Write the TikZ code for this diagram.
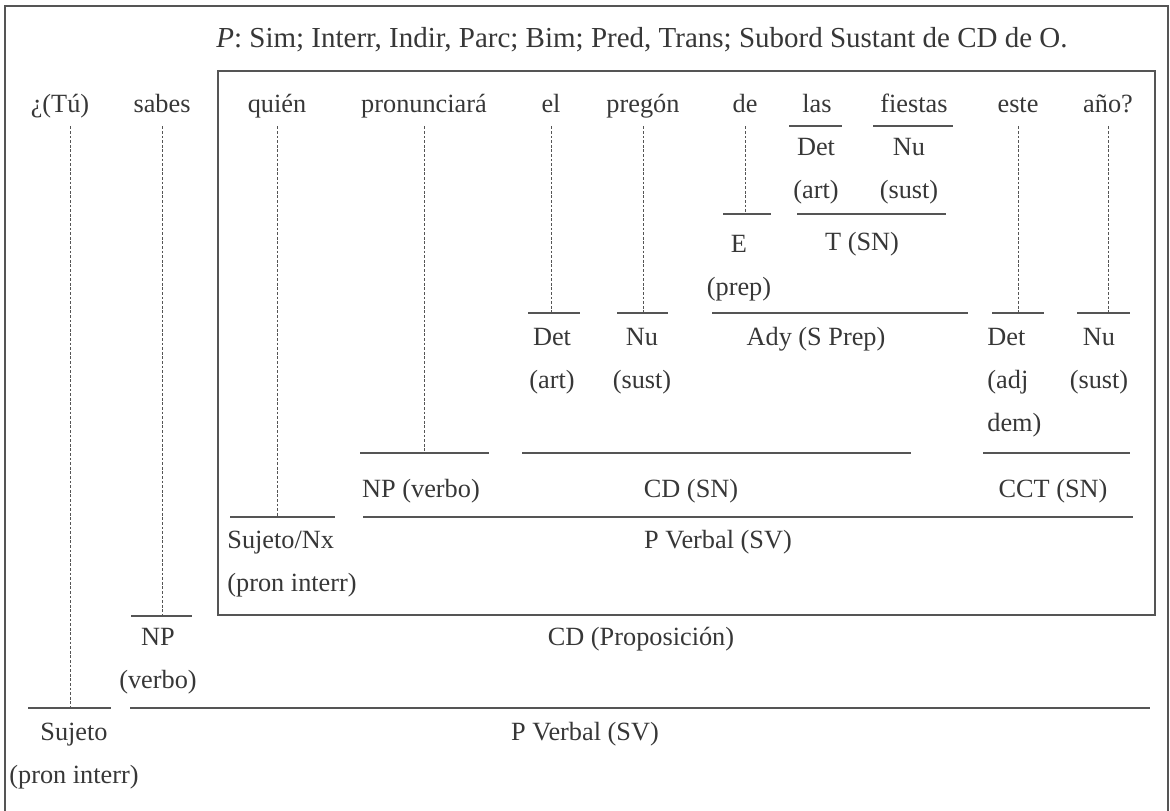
\documentclass[tikz,border=0pt]{standalone}
\usepackage{fontspec}
\setmainfont{Liberation Serif}
\usepackage{tikz}
\usetikzlibrary{calc,positioning}
\definecolor{ink}{RGB}{55,55,55}
\definecolor{rule}{RGB}{85,85,85}
\newcommand{\labfont}{\fontsize{13.15}{21.5}\selectfont}
\newcommand{\headfont}{\fontsize{14.5}{17}\selectfont}
\tikzstyle{word} = [anchor=base, inner sep=0pt, text depth=7pt, text=ink]
\tikzstyle{lab} = [anchor=base, inner sep=0pt, align=center, text=ink] % base = last line
\tikzstyle{labl} = [anchor=base west, inner sep=0pt, align=left, text=ink]
\tikzstyle{bar} = [draw=rule, line width=0.65pt]
\tikzstyle{frame} = [draw=rule, line width=0.6pt]
\tikzstyle{guide} = [draw=rule, line width=0.35pt, dash pattern=on 1.4pt off 0.9pt]

\begin{document}
\begin{tikzpicture}[x=0.5pt, y=-0.5pt, font=\labfont]
    \useasboundingbox (0,0) rectangle (1170,810);
    \draw[frame] (5,815) -- (5,6) -- (1168,6) -- (1168,815);
    \draw[frame] (218,71) rectangle (1155,615);

    \node[anchor=base, inner sep=0pt, text=ink, font=\headfont] (tit) at (642,47)
        {\textit{P}: Sim; Interr, Indir, Parc; Bim; Pred, Trans; Subord Sustant de CD de O.};

    % the sentence
    \node[word] (tu)  at (60,112)   {¿(Tú)};
    \node[word] (sab) at (162,112)  {sabes};
    \node[word] (qui) at (277,112)  {quién};
    \node[word] (pro) at (424,112)  {pronunciará};
    \node[word] (el)  at (551,112)  {el};
    \node[word] (pre) at (643,112)  {pregón};
    \node[word] (de)  at (745,112)  {de};
    \node[word] (las) at (817,112)  {las};
    \node[word] (fie) at (914,112)  {fiestas};
    \node[word] (est) at (1018,112) {este};
    \node[word] (ano) at (1108,112) {año?};

    % bar ends
    \coordinate (lasL) at (789,126);  \coordinate (lasR) at (842,126);
    \coordinate (fieL) at (873,126);  \coordinate (fieR) at (953,126);
    \coordinate (deL)  at (723,214);  \coordinate (deR)  at (771,214);
    \coordinate (tL)   at (797,214);  \coordinate (tR)   at (946,214);
    \coordinate (elL)  at (528,313);  \coordinate (elR)  at (580,313);
    \coordinate (preL) at (617,313);  \coordinate (preR) at (668,313);
    \coordinate (adyL) at (712,313);  \coordinate (adyR) at (968,313);
    \coordinate (estL) at (992,313);  \coordinate (estR) at (1044,313);
    \coordinate (anoL) at (1077,313); \coordinate (anoR) at (1130,313);
    \coordinate (proL) at (360,453);  \coordinate (proR) at (489,453);
    \coordinate (cdL)  at (522,453);  \coordinate (cdR)  at (911,453);
    \coordinate (cctL) at (983,453);  \coordinate (cctR) at (1130,453);
    \coordinate (quiL) at (230,517);  \coordinate (quiR) at (335,517);
    \coordinate (pvL)  at (363,517);  \coordinate (pvR)  at (1133,517);
    \coordinate (sabL) at (131,616);  \coordinate (sabR) at (192,616);
    \coordinate (tuL)  at (28,708);   \coordinate (tuR)  at (111,708);
    \coordinate (svL)  at (130,708);  \coordinate (svR)  at (1150,708);

    \foreach \b in {las,fie,de,t,el,pre,ady,est,ano,pro,cd,cct,qui,pv,sab,tu,sv}
        \draw[bar] (\b L) -- (\b R);

    \draw[guide] ([xshift=5pt]tu.south) -- ([xshift=5pt]tu.south |- tuL);
    \foreach \w in {sab,qui,pro,el,pre,de,est,ano}
        \draw[guide] (\w.south) -- (\w.south |- \w L);

    % functions
    \node[lab] (lasF) at (816,198)  {Det\\(art)};
    \node[lab] (fieF) at (909,198)  {Nu\\(sust)};
    \node[lab] (deF)  at (739,295)  {E\\(prep)};
    \node[lab] (tF)   at (862,250)  {T (SN)};
    \node[lab] (elF)  at (552,388)  {Det\\(art)};
    \node[lab] (preF) at (642,388)  {Nu\\(sust)};
    \node[lab] (adyF) at (816,345)  {Ady (S Prep)};
    \node[labl] (estF) at (987,431) {Det\\(adj\\dem)};
    \node[lab] (anoF) at (1099,388) {Nu\\(sust)};
    \node[lab] (proF) at (421,497)  {NP (verbo)};
    \node[lab] (cdF)  at (691,497)  {CD (SN)};
    \node[lab] (cctF) at (1053,497) {CCT (SN)};
    \node[labl] (quiF) at (227,591) {Sujeto/Nx\\(pron interr)};
    \node[lab] (pvF)  at (718,548)  {P Verbal (SV)};
    \node[lab] (sabF) at (158,688)  {NP\\(verbo)};
    \node[lab] (propF) at (641,645) {CD (Proposición)};
    \node[lab] (tuF)  at (74,783)   {Sujeto\\(pron interr)};
    \node[lab] (svF)  at (585,740)  {P Verbal (SV)};
\end{tikzpicture}
\end{document}
